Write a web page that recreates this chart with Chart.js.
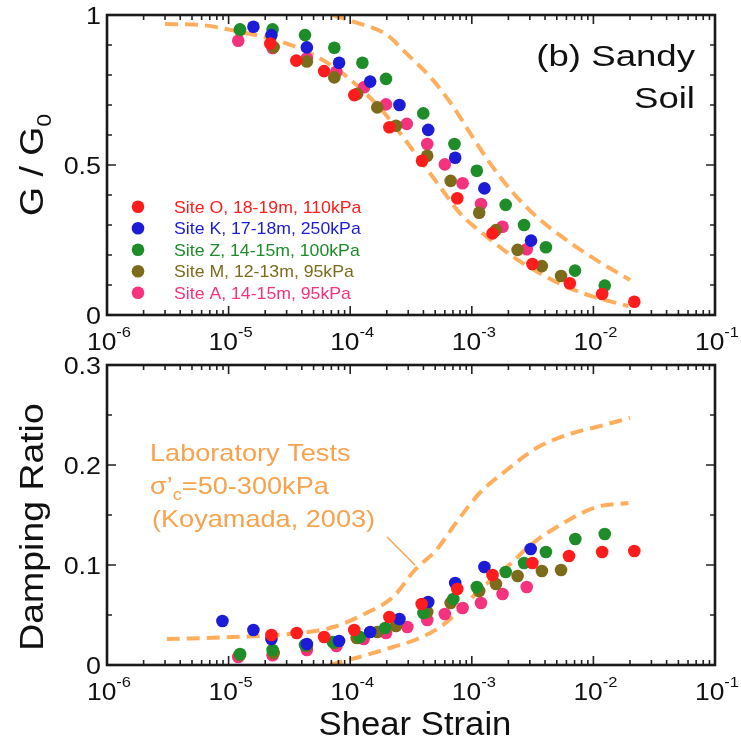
<!DOCTYPE html>
<html>
<head>
<meta charset="utf-8">
<script src="https://cdn.jsdelivr.net/npm/chart.js@4.4.0/dist/chart.umd.min.js"></script>
<style>
  html, body { margin: 0; padding: 0; background: #fff; }
  #wrap { position: relative; width: 741px; height: 747px; }
  #wrap canvas { position: absolute; left: 0; }
</style>
</head>
<body>
<div id="wrap">
  <canvas id="gChart" width="741" height="355" style="top:0"></canvas>
  <canvas id="dChart" width="741" height="392" style="top:355px"></canvas>
</div>
<script>
// sites
var siteLabels = ['Site O, 18-19m, 110kPa', 'Site K, 17-18m, 250kPa', 'Site Z, 14-15m, 100kPa',
                  'Site M, 12-13m, 95kPa', 'Site A, 14-15m, 95kPa'];
var siteColors = ['#ff1c1c', '#1c1cd6', '#1f8c2a', '#7d6b1c', '#f4327e'];

// G/G0 vs shear strain
var strainO = [2.2e-5, 3.6e-5, 6.1e-5, 1.08e-4, 2.1e-4, 3.9e-4, 7.6e-4, 1.48e-3, 3.15e-3, 6.4e-3, 1.18e-2, 2.17e-2];
var gO      = [0.905, 0.848, 0.813, 0.733, 0.626, 0.514, 0.389, 0.272, 0.17, 0.106, 0.07, 0.044];
var strainK = [1.6e-5, 2.25e-5, 4.4e-5, 8.1e-5, 1.46e-4, 2.54e-4, 4.38e-4, 7.3e-4, 1.27e-3, 3.07e-3];
var gK      = [0.961, 0.933, 0.892, 0.841, 0.778, 0.70, 0.617, 0.524, 0.422, 0.248];
var strainZ = [1.24e-5, 2.3e-5, 4.25e-5, 7.4e-5, 1.26e-4, 1.97e-4, 3.99e-4, 7.2e-4, 1.1e-3, 1.9e-3, 2.69e-3, 4.07e-3, 7.06e-3, 1.24e-2];
var gZ      = [0.952, 0.952, 0.933, 0.891, 0.841, 0.787, 0.672, 0.57, 0.481, 0.367, 0.30, 0.226, 0.148, 0.098];
var strainM = [1.24e-5, 2.35e-5, 4.4e-5, 7.4e-5, 1.14e-4, 1.67e-4, 2.38e-4, 4.3e-4, 6.7e-4, 1.15e-3, 1.58e-3, 2.38e-3, 3.77e-3, 5.42e-3];
var gM      = [0.95, 0.893, 0.845, 0.792, 0.737, 0.692, 0.631, 0.531, 0.447, 0.341, 0.283, 0.217, 0.163, 0.13];
var strainA = [1.2e-5, 2.3e-5, 4.4e-5, 7.7e-5, 1.3e-4, 1.97e-4, 2.92e-4, 4.3e-4, 6.0e-4, 8.4e-4, 1.19e-3, 1.79e-3, 2.83e-3];
var gA      = [0.914, 0.89, 0.856, 0.811, 0.759, 0.702, 0.637, 0.57, 0.502, 0.439, 0.37, 0.294, 0.219];

// damping ratio vs shear strain
var dStrainO = [2.25e-5, 3.63e-5, 6.1e-5, 1.08e-4, 2.1e-4, 3.87e-4, 7.6e-4, 1.48e-3, 3.15e-3, 6.3e-3, 1.18e-2, 2.17e-2];
var dampO    = [0.030, 0.032, 0.028, 0.035, 0.048, 0.061, 0.076, 0.09, 0.102, 0.109, 0.113, 0.114];
var dStrainK = [8.9e-6, 1.6e-5, 2.25e-5, 4.4e-5, 8.1e-5, 1.46e-4, 2.54e-4, 4.38e-4, 7.3e-4, 1.27e-3, 3.05e-3];
var dampK    = [0.044, 0.035, 0.026, 0.021, 0.024, 0.033, 0.046, 0.063, 0.082, 0.098, 0.116];
var dStrainZ = [1.24e-5, 2.3e-5, 4.25e-5, 7.2e-5, 1.2e-4, 1.94e-4, 4e-4, 7.05e-4, 1.1e-3, 1.9e-3, 2.69e-3, 4.07e-3, 7.1e-3, 1.24e-2];
var dampZ    = [0.011, 0.015, 0.02, 0.023, 0.028, 0.037, 0.052, 0.066, 0.078, 0.093, 0.102, 0.113, 0.126, 0.131];
var dStrainM = [1.24e-5, 2.35e-5, 4.4e-5, 7.4e-5, 1.13e-4, 1.67e-4, 2.38e-4, 4.3e-4, 6.7e-4, 1.15e-3, 1.58e-3, 2.38e-3, 3.77e-3, 5.42e-3];
var dampM    = [0.010, 0.012, 0.019, 0.022, 0.027, 0.033, 0.039, 0.053, 0.062, 0.074, 0.081, 0.089, 0.094, 0.095];
var dStrainA = [1.2e-5, 2.3e-5, 4.4e-5, 7.7e-5, 1.29e-4, 1.97e-4, 2.95e-4, 4.3e-4, 6e-4, 8.4e-4, 1.19e-3, 1.79e-3, 2.83e-3];
var dampA    = [0.008, 0.0097, 0.015, 0.019, 0.026, 0.032, 0.038, 0.045, 0.051, 0.057, 0.062, 0.071, 0.078];

// laboratory test bounds (Koyamada, 2003)
var labGLowX  = [3e-6, 5.8e-6, 1.24e-5, 2.33e-5, 4.4e-5, 8.3e-5, 1.76e-4, 2.57e-4, 3.75e-4, 5.47e-4, 8e-4, 1.33e-3, 2.19e-3, 3.63e-3, 6.02e-3, 1e-2, 1.94e-2];
var labGLowY  = [0.97, 0.967, 0.944, 0.919, 0.878, 0.811, 0.69, 0.606, 0.517, 0.428, 0.339, 0.261, 0.194, 0.139, 0.094, 0.061, 0.03];
var labGHighX = [7.2e-5, 1.06e-4, 1.98e-4, 2.9e-4, 4.8e-4, 7.05e-4, 9.7e-4, 1.41e-3, 2.2e-3, 3.4e-3, 6e-3, 1.06e-2, 2e-2];
var labGHighY = [1.0, 0.978, 0.935, 0.872, 0.783, 0.694, 0.606, 0.506, 0.406, 0.328, 0.25, 0.183, 0.117];
var labDHighX = [3.1e-6, 1.09e-5, 3.86e-5, 7.3e-5, 1.36e-4, 2.25e-4, 3.4e-4, 5.1e-4, 7.4e-4, 1.16e-3, 1.94e-3, 3.4e-3, 6.8e-3, 1.06e-2, 2e-2];
var labDHighY = [0.026, 0.028, 0.032, 0.038, 0.052, 0.068, 0.095, 0.115, 0.142, 0.172, 0.195, 0.217, 0.232, 0.238, 0.247];
var labDLowX  = [6.8e-5, 1.36e-4, 2.25e-4, 3.4e-4, 5.5e-4, 8e-4, 1.16e-3, 1.94e-3, 3.2e-3, 5.67e-3, 1.06e-2, 1.94e-2];
var labDLowY  = [0.0, 0.010, 0.018, 0.025, 0.038, 0.055, 0.075, 0.098, 0.122, 0.142, 0.158, 0.162];

var xExponents = [-6, -5, -4, -3, -2, -1];

var FONT = '"Liberation Sans", Arial, Helvetica, sans-serif';
var ORANGE = '#ffae5e';
var ORANGE_TXT = '#f7a24e';

function zip(xs, ys) {
  return xs.map(function (x, i) { return { x: x, y: ys[i] }; });
}

function siteSet(i, xs, ys) {
  return {
    label: siteLabels[i], data: zip(xs, ys), showLine: false,
    pointRadius: 6.3, pointBorderWidth: 0, backgroundColor: siteColors[i], order: 1
  };
}

function labSet(xs, ys) {
  return {
    data: zip(xs, ys), showLine: true, pointRadius: 0, borderColor: ORANGE,
    borderWidth: 4, borderDash: [13, 7], cubicInterpolationMode: 'monotone', order: 2
  };
}

// text with sub/superscripts: parts = [[text, size, dy], ...]
function runs(ctx, parts, x, y, align, color, angle, stretch) {
  ctx.save();
  ctx.translate(x, y);
  if (angle) ctx.rotate(angle);
  ctx.scale(stretch || 1, 1);
  ctx.fillStyle = color;
  ctx.textBaseline = 'alphabetic';
  ctx.textAlign = 'left';
  var w = 0;
  parts.forEach(function (p) { ctx.font = p[1] + 'px ' + FONT; w += ctx.measureText(p[0]).width; });
  var cx = align === 'center' ? -w / 2 : (align === 'right' ? -w : 0);
  parts.forEach(function (p) {
    ctx.font = p[1] + 'px ' + FONT;
    ctx.fillText(p[0], cx, p[2] || 0);
    cx += ctx.measureText(p[0]).width;
  });
  ctx.restore();
}

// frame, inward ticks, tick labels
function axesPlugin(yMax, yMinorCount, yMajorEvery, yLabels) {
  return {
    id: 'axesFrame',
    afterDatasetsDraw: function (chart) {
      var ctx = chart.ctx, a = chart.chartArea;
      var xs = chart.scales.x, ys = chart.scales.y;
      ctx.save();
      ctx.strokeStyle = '#222';
      ctx.lineWidth = 1.6;
      ctx.beginPath();
      xExponents.forEach(function (e, k) {
        for (var m = 1; m <= 9; m++) {
          if (m > 1 && k === xExponents.length - 1) break;
          var px = xs.getPixelForValue(m * Math.pow(10, e));
          var len = m === 1 ? 9 : 5;
          ctx.moveTo(px, a.bottom); ctx.lineTo(px, a.bottom - len);
          ctx.moveTo(px, a.top); ctx.lineTo(px, a.top + len);
        }
      });
      for (var j = 0; j <= yMinorCount; j++) {
        var py = ys.getPixelForValue(yMax * j / yMinorCount);
        var l = j % yMajorEvery === 0 ? 9 : 5;
        ctx.moveTo(a.left, py); ctx.lineTo(a.left + l, py);
        ctx.moveTo(a.right, py); ctx.lineTo(a.right - l, py);
      }
      ctx.stroke();
      ctx.lineWidth = 2.6;
      ctx.strokeStyle = '#1a1a1a';
      ctx.strokeRect(a.left, a.top, a.right - a.left, a.bottom - a.top);
      ctx.restore();

      xExponents.forEach(function (e) {
        var px = xs.getPixelForValue(Math.pow(10, e));
        runs(ctx, [['10', 24, 0], [String(e), 15, -13]], px + 2, a.bottom + 35, 'center', '#111', 0, 1.1);
      });
      yLabels.forEach(function (t) {
        runs(ctx, [[t[1], 24, 0]], a.left - 6, ys.getPixelForValue(t[0]) + 8.5, 'right', '#111', 0, 1.12);
      });
    }
  };
}

var gExtras = {
  id: 'gExtras',
  afterDraw: function (chart) {
    var ctx = chart.ctx;
    runs(ctx, [['G / G', 34, 0], ['0', 21, 8]], 43, 165, 'center', '#111', -Math.PI / 2, 1.1);
    runs(ctx, [['(b) Sandy', 30, 0]], 695, 66, 'right', '#111', 0, 1.22);
    runs(ctx, [['Soil', 30, 0]], 695, 108, 'right', '#111', 0, 1.22);
    chart.data.datasets.forEach(function (ds, i) {
      if (!ds.label) return;
      var y = 206.7 + i * 21.5;
      ctx.fillStyle = ds.backgroundColor;
      ctx.beginPath(); ctx.arc(138, y, 6.3, 0, Math.PI * 2); ctx.fill();
      runs(ctx, [[ds.label, 17, 0]], 174, y + 6, 'left', ds.backgroundColor, 0, 1.04);
    });
  }
};

var dExtras = {
  id: 'dExtras',
  afterDraw: function (chart) {
    var ctx = chart.ctx, xs = chart.scales.x, ys = chart.scales.y;
    runs(ctx, [['Damping Ratio', 34, 0]], 43, 172, 'center', '#111', -Math.PI / 2, 1.1);
    runs(ctx, [['Shear Strain', 34, 0]], 415, 380, 'center', '#111', 0, 1.02);
    runs(ctx, [['Laboratory Tests', 24, 0]], 150, 106, 'left', ORANGE_TXT, 0, 1.13);
    runs(ctx, [['\u03c3\u2019', 24, 0], ['c', 16, 6], ['=50-300kPa', 24, 0]], 150, 139, 'left', ORANGE_TXT, 0, 1.13);
    runs(ctx, [['(Koyamada, 2003)', 24, 0]], 152, 172, 'left', ORANGE_TXT, 0, 1.13);
    ctx.save();
    ctx.strokeStyle = ORANGE_TXT;
    ctx.lineWidth = 1.4;
    ctx.beginPath();
    ctx.moveTo(xs.getPixelForValue(2.01e-4), ys.getPixelForValue(0.128));
    ctx.lineTo(xs.getPixelForValue(3.41e-4), ys.getPixelForValue(0.100));
    ctx.stroke();
    ctx.restore();
  }
};

function baseOptions(padding, yMax) {
  return {
    responsive: false,
    animation: false,
    layout: { padding: padding },
    plugins: { legend: { display: false }, tooltip: { enabled: false } },
    scales: {
      x: { type: 'logarithmic', min: 1e-6, max: 1e-1, display: false },
      y: { min: 0, max: yMax, display: false }
    }
  };
}

new Chart(document.getElementById('gChart'), {
  type: 'scatter',
  data: {
    datasets: [
      siteSet(0, strainO, gO), siteSet(1, strainK, gK), siteSet(2, strainZ, gZ),
      siteSet(3, strainM, gM), siteSet(4, strainA, gA),
      labSet(labGLowX, labGLowY), labSet(labGHighX, labGHighY)
    ]
  },
  options: baseOptions({ left: 107, right: 26, top: 15, bottom: 40 }, 1),
  plugins: [axesPlugin(1, 10, 5, [[0, '0'], [0.5, '0.5'], [1, '1']]), gExtras]
});

new Chart(document.getElementById('dChart'), {
  type: 'scatter',
  data: {
    datasets: [
      siteSet(0, dStrainO, dampO), siteSet(1, dStrainK, dampK), siteSet(2, dStrainZ, dampZ),
      siteSet(3, dStrainM, dampM), siteSet(4, dStrainA, dampA),
      labSet(labDHighX, labDHighY), labSet(labDLowX, labDLowY)
    ]
  },
  options: baseOptions({ left: 107, right: 26, top: 10, bottom: 82 }, 0.3),
  plugins: [axesPlugin(0.3, 6, 2, [[0, '0'], [0.1, '0.1'], [0.2, '0.2'], [0.3, '0.3']]), dExtras]
});
</script>
</body>
</html>
